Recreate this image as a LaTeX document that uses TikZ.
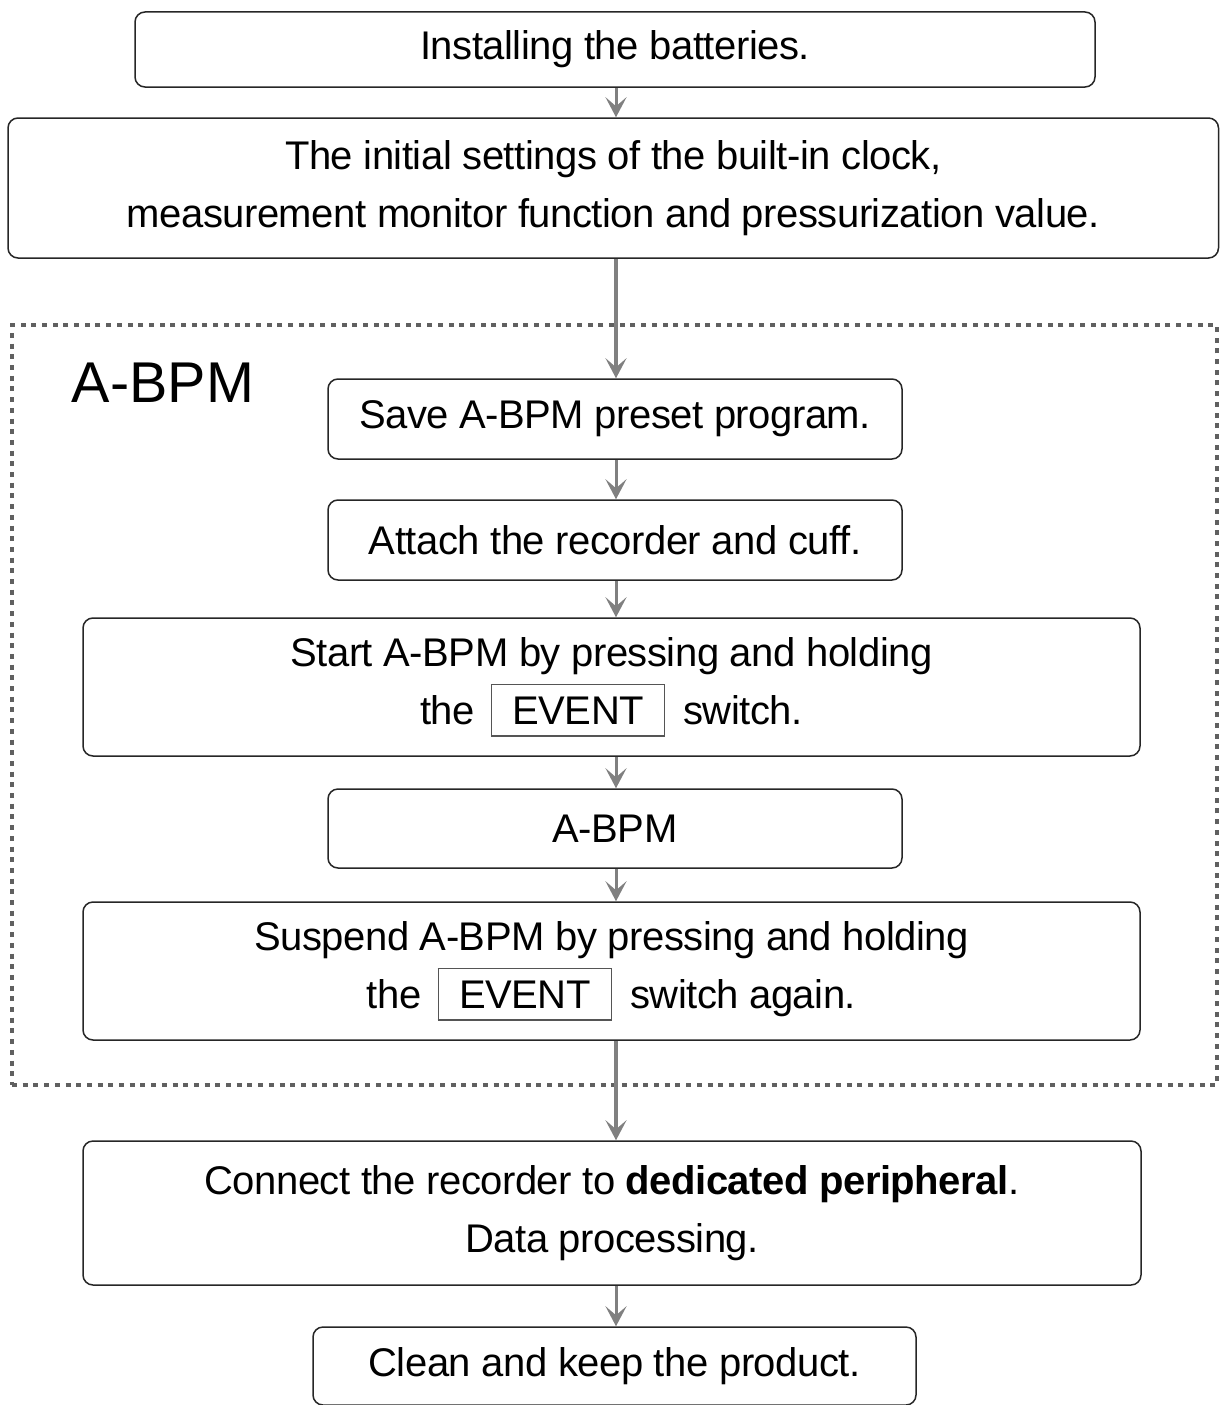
\documentclass[tikz,border=0pt]{standalone}
\usepackage{fontspec}
\setmainfont{Liberation Sans}
\newfontfamily\boxfont{Liberation Sans}[LetterSpace=-1.2]
\usetikzlibrary{arrows.meta}
\definecolor{arrgray}{HTML}{808080}
\definecolor{dotgray}{HTML}{606060}
\definecolor{evgray}{HTML}{555555}
\newcommand\evbox{{\setlength{\fboxrule}{1.5pt}\setlength{\fboxsep}{0pt}\fcolorbox{evgray}{white}{\hspace{20pt}\rule[-11pt]{0pt}{50pt}EVENT\hspace{20pt}}}}
\tikzset{
  stepbox/.style={draw=black!85, line width=1.5pt, rounded corners=10pt, align=center,
    font=\boxfont\fontsize{40}{57.5}\selectfont, inner sep=0pt},
  flow/.style={draw=arrgray, line width=3pt, -{Stealth[length=20pt,width=21pt,inset=9pt]}},
  longflow/.style={flow, line width=3.5pt},
  frame/.style={draw=dotgray, line width=4.5pt, dash pattern=on 5pt off 5.7pt, inner sep=0pt},
}
\begin{document}
\begin{tikzpicture}[x=1pt,y=-1pt]
\useasboundingbox (0,0) rectangle (1219,1405);
% dotted frame
\node[frame, minimum width=1205pt, minimum height=760pt] (fr) at (614.5,705) {};
\node[inner sep=0pt, font=\fontsize{57.5}{68}\selectfont] (lbl) at (163,383) {A-BPM};
% boxes
\node[stepbox, minimum width=960pt, minimum height=75pt] (b1) at (615,49.5) {Installing the batteries.};
\node[stepbox, minimum width=1210.5pt, minimum height=140pt] (b2) at (613.25,188)
  {The initial settings of the built-in clock,\\measurement monitor function and pressurization value.};
\node[stepbox, minimum width=574pt, minimum height=80pt] (b3) at (615,419) {Save A-BPM preset program.};
\node[stepbox, minimum width=574pt, minimum height=80pt] (b4) at (615,540) {Attach the recorder and cuff.};
\node[stepbox, minimum width=1057pt, minimum height=138pt] (b5) at (611.5,687)
  {Start A-BPM by pressing and holding\\the\hspace{16pt}\evbox\hspace{18pt}switch.};
\node[stepbox, minimum width=574pt, minimum height=79pt] (b6) at (615,828.5) {A-BPM};
\node[stepbox, minimum width=1057pt, minimum height=138pt] (b7) at (611.5,971)
  {Suspend A-BPM by pressing and holding\\the\hspace{16pt}\evbox\hspace{18pt}switch again.};
\node[stepbox, minimum width=1058pt, minimum height=144pt] (b8) at (612,1213)
  {Connect the recorder to \textbf{dedicated peripheral}.\\Data processing.};
\node[stepbox, minimum width=603pt, minimum height=78pt] (b9) at (614.5,1366) {Clean and keep the product.};
% arrows
\coordinate (ax) at (616,0);
\draw[flow] (b1.south -| ax) -- (b2.north -| ax);
\draw[longflow] (b2.south -| ax) -- (b3.north -| ax);
\draw[flow] (b3.south -| ax) -- (b4.north -| ax);
\draw[flow] (b4.south -| ax) -- (b5.north -| ax);
\draw[flow] (b5.south -| ax) -- (b6.north -| ax);
\draw[flow] (b6.south -| ax) -- (b7.north -| ax);
\draw[longflow] (b7.south -| ax) -- (b8.north -| ax);
\draw[flow] (b8.south -| ax) -- (b9.north -| ax);
\end{tikzpicture}
\end{document}
